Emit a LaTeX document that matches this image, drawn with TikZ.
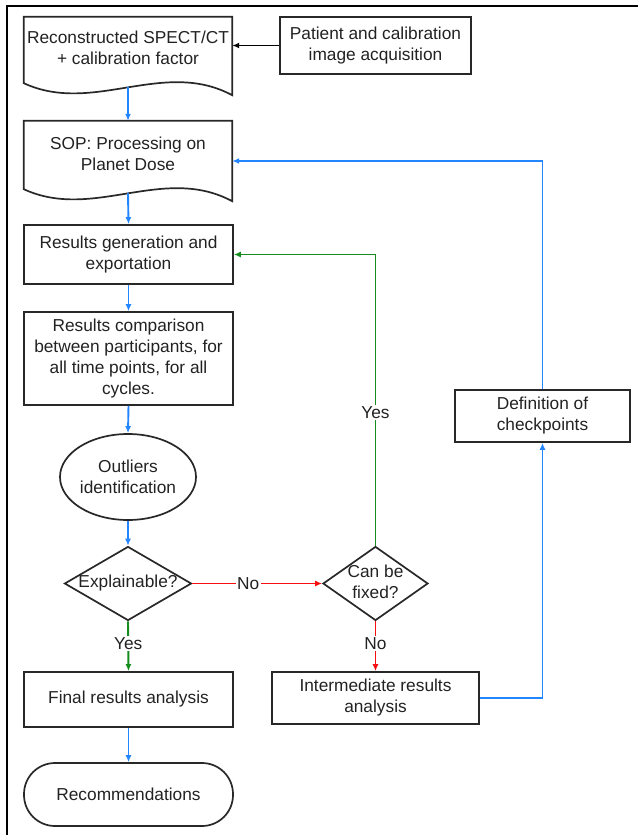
\documentclass[tikz,border=0pt]{standalone}
\usepackage{fontspec}
\setmainfont{Liberation Sans}
\usetikzlibrary{arrows.meta,shapes.geometric,calc}
\definecolor{cblue}{RGB}{36,134,255}
\definecolor{cgreen}{RGB}{20,140,30}
\definecolor{cred}{RGB}{245,15,15}
\definecolor{txt}{RGB}{34,34,34}
\definecolor{bdr}{RGB}{40,40,40}
\begin{document}
\begin{tikzpicture}[x=1pt,y=-1pt,
  font=\fontsize{17.3}{21}\selectfont,
  box/.style={draw=bdr, line width=1.7pt, rectangle, align=center, inner sep=0pt, text=txt},
  plain/.style={align=center, inner sep=0pt, text=txt},
  conn/.style={line width=1.9pt, -{Latex[length=7pt,width=6pt]}},
  blu/.style={conn, draw=cblue},
  grn/.style={conn, draw=cgreen},
  rd/.style={conn, draw=cred},
  blk/.style={conn, draw=black},
  lbl/.style={fill=white, inner sep=1.5pt, text=txt},
  docshape/.style={line width=1.7pt, draw=bdr}
]
\useasboundingbox (0,0) rectangle (638,835);
% frame
\draw[line width=2.5pt] (7,835) -- (7,6) -- (638,6);

% document shapes
\node[plain, minimum width=208pt, minimum height=78pt] (n1) at (128,56) {};
\node[plain] (n1t) at (128,47.5) {Reconstructed SPECT/CT\\+ calibration factor};
\draw[docshape] (n1.north west) -- (n1.north east) -- (n1.south east)
  .. controls ($(n1.south east)+(-69,-37)$) and ($(n1.south east)+(-139,20)$) .. ($(n1.south west)+(0,-12)$) -- cycle;
\coordinate (n1b) at ($(n1.south)+(0,-8)$);

\node[plain, minimum width=208pt, minimum height=80pt] (n2) at (128,161) {};
\node[plain] (n2t) at (128,153.5) {SOP: Processing on\\Planet Dose};
\draw[docshape] (n2.north west) -- (n2.north east) -- (n2.south east)
  .. controls ($(n2.south east)+(-69,-37)$) and ($(n2.south east)+(-139,20)$) .. ($(n2.south west)+(0,-12)$) -- cycle;
\coordinate (n2b) at ($(n2.south)+(0,-8)$);

\node[box, minimum width=191pt, minimum height=57pt] (pat) at (375.5,45.5) {Patient and calibration\\image acquisition};

\node[box, minimum width=209pt, minimum height=59pt] (n3) at (128.5,254.5) {Results generation and\\exportation};
\node[box, minimum width=209pt, minimum height=93pt] (n4) at (128.5,358.5) {Results comparison\\between participants, for\\all time points, for all\\cycles.};
\node[draw=bdr, line width=1.7pt, ellipse, minimum width=110pt, minimum height=86pt, inner sep=0pt, align=center, text=txt] (ell) at (128,477) {Outliers\\identification};

\node[draw=bdr, line width=1.7pt, diamond, minimum width=127pt, minimum height=74pt, inner sep=0pt] (d1) at (128,583.5) {};
\node[plain] (d1t) at (128,583) {Explainable?};
\node[draw=bdr, line width=1.7pt, diamond, minimum width=105pt, minimum height=74pt, inner sep=0pt] (d2) at (375.5,583.5) {};
\node[plain] (d2t) at (375.5,582) {Can be\\fixed?};

\node[box, minimum width=209pt, minimum height=55pt] (fin) at (128.5,699.5) {Final results analysis};
\node[box, minimum width=207pt, minimum height=52pt] (inter) at (375.5,698) {Intermediate results\\analysis};
\node[box, minimum width=175pt, minimum height=52pt] (def) at (542.5,416) {Definition of\\checkpoints};
\node[draw=bdr, line width=1.7pt, rectangle, rounded corners=31pt, minimum width=209pt, minimum height=63pt, inner sep=0pt, text=txt] (rec) at (128.5,794.5) {Recommendations};

% connectors
\draw[blk] (pat.west) -- (pat.west -| n1.east);
\draw[blu] (n1b) -- (n2.north);
\draw[blu] (n2b) -- (n3.north);
\draw[blu] (n3.south) -- (n4.north);
\draw[blu] (n4.south) -- (ell.north);
\draw[blu] (ell.south) -- (d1.north);
\draw[rd] (d1.east) -- node[lbl, pos=0.43]{No} (d2.west);
\draw[grn] (d2.north) |- node[lbl, pos=0.229]{Yes} (n3.east);
\draw[rd] (d2.south) -- node[lbl, pos=0.45]{No} (inter.north);
\draw[grn] (d1.south) -- node[lbl, pos=0.45]{Yes} (fin.north);
\draw[blu] (fin.south) -- (rec.north);
\draw[blu] (inter.east) -| (def.south);
\draw[blu] (def.north) |- (n2.east);
\end{tikzpicture}
\end{document}
